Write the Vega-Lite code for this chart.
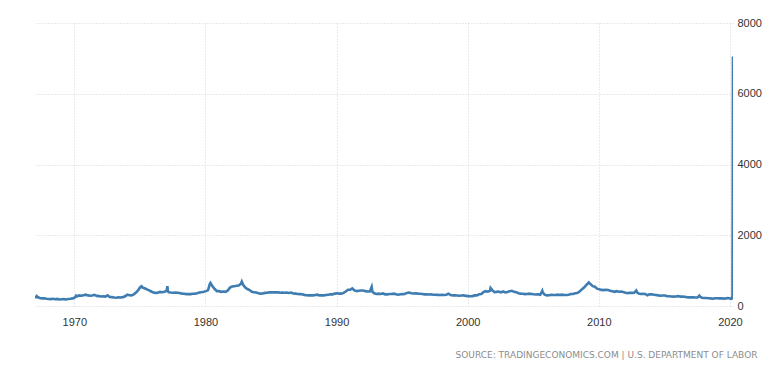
{
  "$schema": "https://vega.github.io/schema/vega-lite/v6.json",
  "width": 698,
  "height": 283,
  "autosize": {"type": "none"},
  "padding": {"left": 35, "top": 23, "right": 47, "bottom": 64},
  "background": "white",
  "config": {"view": {"stroke": null}},
  "title": {
    "text": "SOURCE: TRADINGECONOMICS.COM | U.S. DEPARTMENT OF LABOR",
    "orient": "bottom",
    "anchor": "end",
    "frame": "bounds",
    "font": "DejaVu Sans",
    "fontSize": 9,
    "fontWeight": "normal",
    "color": "#8c8c8c",
    "offset": 24,
    "dx": -4
  },
  "data": {"values": [
    {"d":"1967-01-07","v":220},{"d":"1967-02-18","v":280},{"d":"1967-03-25","v":245},{"d":"1967-05-15","v":225},{"d":"1967-07-15","v":215},{"d":"1967-09-15","v":220},{"d":"1967-11-15","v":205},
    {"d":"1968-01-15","v":200},{"d":"1968-03-15","v":195},{"d":"1968-05-15","v":205},{"d":"1968-07-15","v":190},{"d":"1968-09-15","v":200},{"d":"1968-11-15","v":185},
    {"d":"1969-01-15","v":190},{"d":"1969-03-15","v":195},{"d":"1969-05-15","v":185},{"d":"1969-07-15","v":200},{"d":"1969-09-15","v":205},{"d":"1969-11-15","v":215},
    {"d":"1970-01-15","v":240},{"d":"1970-02-20","v":290},{"d":"1970-03-15","v":270},{"d":"1970-05-15","v":300},{"d":"1970-07-15","v":290},{"d":"1970-09-15","v":305},{"d":"1970-11-15","v":320},
    {"d":"1971-01-15","v":300},{"d":"1971-03-15","v":290},{"d":"1971-05-15","v":295},{"d":"1971-07-15","v":315},{"d":"1971-09-15","v":285},{"d":"1971-11-15","v":280},
    {"d":"1972-01-15","v":270},{"d":"1972-03-15","v":275},{"d":"1972-05-15","v":265},{"d":"1972-07-15","v":300},{"d":"1972-09-15","v":255},{"d":"1972-11-15","v":250},
    {"d":"1973-01-15","v":240},{"d":"1973-03-15","v":235},{"d":"1973-05-15","v":245},{"d":"1973-07-15","v":240},{"d":"1973-09-15","v":250},{"d":"1973-11-15","v":275},
    {"d":"1974-01-15","v":320},{"d":"1974-03-15","v":305},{"d":"1974-05-15","v":300},{"d":"1974-07-15","v":330},{"d":"1974-09-15","v":380},{"d":"1974-11-15","v":450},
    {"d":"1975-01-15","v":540},{"d":"1975-02-15","v":560},{"d":"1975-03-15","v":520},{"d":"1975-05-15","v":500},{"d":"1975-07-15","v":470},{"d":"1975-09-15","v":440},{"d":"1975-11-15","v":410},
    {"d":"1976-01-15","v":380},{"d":"1976-03-15","v":370},{"d":"1976-05-15","v":375},{"d":"1976-07-15","v":400},{"d":"1976-09-15","v":390},{"d":"1976-11-15","v":400},
    {"d":"1977-01-15","v":430},{"d":"1977-02-05","v":560},{"d":"1977-02-19","v":420},{"d":"1977-03-15","v":390},{"d":"1977-05-15","v":380},{"d":"1977-07-15","v":375},{"d":"1977-09-15","v":380},{"d":"1977-11-15","v":375},
    {"d":"1978-01-15","v":370},{"d":"1978-03-15","v":350},{"d":"1978-05-15","v":345},{"d":"1978-07-15","v":335},{"d":"1978-09-15","v":340},{"d":"1978-11-15","v":335},
    {"d":"1979-01-15","v":345},{"d":"1979-03-15","v":350},{"d":"1979-05-15","v":360},{"d":"1979-07-15","v":380},{"d":"1979-09-15","v":390},{"d":"1979-11-15","v":400},
    {"d":"1980-01-15","v":420},{"d":"1980-03-15","v":450},{"d":"1980-05-01","v":620},{"d":"1980-05-20","v":650},{"d":"1980-07-15","v":560},{"d":"1980-09-15","v":480},{"d":"1980-11-15","v":420},
    {"d":"1981-01-15","v":420},{"d":"1981-03-15","v":400},{"d":"1981-05-15","v":410},{"d":"1981-07-15","v":400},{"d":"1981-09-15","v":440},{"d":"1981-11-15","v":520},
    {"d":"1982-01-15","v":550},{"d":"1982-03-15","v":560},{"d":"1982-05-15","v":570},{"d":"1982-07-15","v":580},{"d":"1982-09-15","v":630},{"d":"1982-10-10","v":690},{"d":"1982-11-15","v":600},
    {"d":"1983-01-15","v":520},{"d":"1983-03-15","v":480},{"d":"1983-05-15","v":450},{"d":"1983-07-15","v":400},{"d":"1983-09-15","v":390},{"d":"1983-11-15","v":380},
    {"d":"1984-01-15","v":360},{"d":"1984-03-15","v":350},{"d":"1984-05-15","v":355},{"d":"1984-07-15","v":370},{"d":"1984-09-15","v":375},{"d":"1984-11-15","v":385},
    {"d":"1985-01-15","v":390},{"d":"1985-03-15","v":385},{"d":"1985-05-15","v":390},{"d":"1985-07-15","v":385},{"d":"1985-09-15","v":375},{"d":"1985-11-15","v":380},
    {"d":"1986-01-15","v":375},{"d":"1986-03-15","v":380},{"d":"1986-05-15","v":370},{"d":"1986-07-15","v":380},{"d":"1986-09-15","v":355},{"d":"1986-11-15","v":350},
    {"d":"1987-01-15","v":340},{"d":"1987-03-15","v":335},{"d":"1987-05-15","v":330},{"d":"1987-07-15","v":315},{"d":"1987-09-15","v":305},{"d":"1987-11-15","v":300},
    {"d":"1988-01-15","v":305},{"d":"1988-03-15","v":300},{"d":"1988-05-15","v":310},{"d":"1988-07-15","v":320},{"d":"1988-09-15","v":300},{"d":"1988-11-15","v":300},
    {"d":"1989-01-15","v":300},{"d":"1989-03-15","v":310},{"d":"1989-05-15","v":320},{"d":"1989-07-15","v":330},{"d":"1989-09-15","v":330},{"d":"1989-11-15","v":350},
    {"d":"1990-01-15","v":360},{"d":"1990-03-15","v":350},{"d":"1990-05-15","v":350},{"d":"1990-07-15","v":370},{"d":"1990-09-15","v":410},{"d":"1990-11-15","v":460},
    {"d":"1991-01-15","v":460},{"d":"1991-03-15","v":500},{"d":"1991-05-15","v":440},{"d":"1991-07-15","v":420},{"d":"1991-09-15","v":430},{"d":"1991-11-15","v":440},
    {"d":"1992-01-15","v":440},{"d":"1992-03-15","v":420},{"d":"1992-05-15","v":410},{"d":"1992-07-15","v":410},{"d":"1992-09-05","v":540},{"d":"1992-09-26","v":400},{"d":"1992-11-15","v":360},
    {"d":"1993-01-15","v":340},{"d":"1993-03-15","v":350},{"d":"1993-05-15","v":340},{"d":"1993-07-15","v":355},{"d":"1993-09-15","v":330},{"d":"1993-11-15","v":330},
    {"d":"1994-01-15","v":340},{"d":"1994-03-15","v":340},{"d":"1994-05-15","v":350},{"d":"1994-07-15","v":335},{"d":"1994-09-15","v":320},{"d":"1994-11-15","v":330},
    {"d":"1995-01-15","v":335},{"d":"1995-03-15","v":340},{"d":"1995-05-15","v":370},{"d":"1995-07-15","v":380},{"d":"1995-09-15","v":360},{"d":"1995-11-15","v":355},
    {"d":"1996-01-15","v":360},{"d":"1996-03-15","v":350},{"d":"1996-05-15","v":345},{"d":"1996-07-15","v":340},{"d":"1996-09-15","v":330},{"d":"1996-11-15","v":330},
    {"d":"1997-01-15","v":325},{"d":"1997-03-15","v":330},{"d":"1997-05-15","v":320},{"d":"1997-07-15","v":320},{"d":"1997-09-15","v":315},{"d":"1997-11-15","v":310},
    {"d":"1998-01-15","v":315},{"d":"1998-03-15","v":310},{"d":"1998-05-15","v":320},{"d":"1998-07-15","v":350},{"d":"1998-09-15","v":310},{"d":"1998-11-15","v":300},
    {"d":"1999-01-15","v":300},{"d":"1999-03-15","v":295},{"d":"1999-05-15","v":290},{"d":"1999-07-15","v":295},{"d":"1999-09-15","v":300},{"d":"1999-11-15","v":285},
    {"d":"2000-01-15","v":280},{"d":"2000-03-15","v":275},{"d":"2000-05-15","v":280},{"d":"2000-07-15","v":300},{"d":"2000-09-15","v":300},{"d":"2000-11-15","v":330},
    {"d":"2001-01-15","v":340},{"d":"2001-03-15","v":390},{"d":"2001-05-15","v":420},{"d":"2001-07-15","v":405},{"d":"2001-09-15","v":430},{"d":"2001-10-01","v":510},{"d":"2001-11-15","v":450},
    {"d":"2002-01-15","v":390},{"d":"2002-03-15","v":400},{"d":"2002-05-15","v":410},{"d":"2002-07-15","v":385},{"d":"2002-09-15","v":410},{"d":"2002-11-15","v":385},
    {"d":"2003-01-15","v":395},{"d":"2003-03-15","v":420},{"d":"2003-05-15","v":430},{"d":"2003-07-15","v":400},{"d":"2003-09-15","v":390},{"d":"2003-11-15","v":360},
    {"d":"2004-01-15","v":350},{"d":"2004-03-15","v":345},{"d":"2004-05-15","v":335},{"d":"2004-07-15","v":340},{"d":"2004-09-15","v":350},{"d":"2004-11-15","v":340},
    {"d":"2005-01-15","v":330},{"d":"2005-03-15","v":325},{"d":"2005-05-15","v":330},{"d":"2005-07-15","v":315},{"d":"2005-09-10","v":430},{"d":"2005-09-24","v":380},{"d":"2005-11-15","v":320},
    {"d":"2006-01-15","v":300},{"d":"2006-03-15","v":305},{"d":"2006-05-15","v":315},{"d":"2006-07-15","v":310},{"d":"2006-09-15","v":310},{"d":"2006-11-15","v":320},
    {"d":"2007-01-15","v":310},{"d":"2007-03-15","v":320},{"d":"2007-05-15","v":310},{"d":"2007-07-15","v":310},{"d":"2007-09-15","v":320},{"d":"2007-11-15","v":340},
    {"d":"2008-01-15","v":340},{"d":"2008-03-15","v":360},{"d":"2008-05-15","v":370},{"d":"2008-07-15","v":410},{"d":"2008-09-15","v":470},{"d":"2008-11-15","v":520},
    {"d":"2009-01-15","v":590},{"d":"2009-03-28","v":665},{"d":"2009-04-15","v":640},{"d":"2009-05-15","v":620},{"d":"2009-07-15","v":560},{"d":"2009-09-15","v":545},{"d":"2009-11-15","v":490},
    {"d":"2010-01-15","v":470},{"d":"2010-03-15","v":455},{"d":"2010-05-15","v":450},{"d":"2010-07-15","v":460},{"d":"2010-09-15","v":450},{"d":"2010-11-15","v":430},
    {"d":"2011-01-15","v":415},{"d":"2011-03-15","v":400},{"d":"2011-05-15","v":420},{"d":"2011-07-15","v":405},{"d":"2011-09-15","v":410},{"d":"2011-11-15","v":395},
    {"d":"2012-01-15","v":375},{"d":"2012-03-15","v":365},{"d":"2012-05-15","v":375},{"d":"2012-07-15","v":370},{"d":"2012-09-15","v":375},{"d":"2012-11-10","v":440},{"d":"2012-12-15","v":370},
    {"d":"2013-01-15","v":350},{"d":"2013-03-15","v":340},{"d":"2013-05-15","v":345},{"d":"2013-07-15","v":340},{"d":"2013-09-15","v":305},{"d":"2013-11-15","v":330},
    {"d":"2014-01-15","v":330},{"d":"2014-03-15","v":320},{"d":"2014-05-15","v":310},{"d":"2014-07-15","v":300},{"d":"2014-09-15","v":290},{"d":"2014-11-15","v":295},
    {"d":"2015-01-15","v":295},{"d":"2015-03-15","v":280},{"d":"2015-05-15","v":275},{"d":"2015-07-15","v":270},{"d":"2015-09-15","v":265},{"d":"2015-11-15","v":270},
    {"d":"2016-01-15","v":280},{"d":"2016-03-15","v":265},{"d":"2016-05-15","v":270},{"d":"2016-07-15","v":260},{"d":"2016-09-15","v":250},{"d":"2016-11-15","v":245},
    {"d":"2017-01-15","v":245},{"d":"2017-03-15","v":245},{"d":"2017-05-15","v":240},{"d":"2017-07-15","v":240},{"d":"2017-09-02","v":295},{"d":"2017-09-23","v":260},{"d":"2017-11-15","v":235},
    {"d":"2018-01-15","v":225},{"d":"2018-03-15","v":225},{"d":"2018-05-15","v":220},{"d":"2018-07-15","v":215},{"d":"2018-09-15","v":205},{"d":"2018-11-15","v":220},
    {"d":"2019-01-15","v":220},{"d":"2019-03-15","v":215},{"d":"2019-05-15","v":220},{"d":"2019-07-15","v":210},{"d":"2019-09-15","v":215},{"d":"2019-11-15","v":225},
    {"d":"2020-01-04","v":215},{"d":"2020-02-01","v":205},{"d":"2020-02-29","v":215},{"d":"2020-03-14","v":282},{"d":"2020-03-21","v":3307},{"d":"2020-03-28","v":7050}
  ]},
  "mark": {"type": "line", "color": "#3e7cb1", "strokeWidth": 2.6, "clip": true},
  "encoding": {
    "x": {
      "field": "d",
      "type": "temporal",
      "scale": {"domain": ["1967-01-01", "2020-03-28"], "nice": false},
      "axis": {
        "title": null,
        "values": [{"year": 1970}, {"year": 1980}, {"year": 1990}, {"year": 2000}, {"year": 2010}, {"year": 2020}],
        "format": "%Y",
        "domain": false,
        "ticks": false,
        "labelPadding": 10,
        "labelFont": "Liberation Sans",
        "labelFontSize": 11,
        "labelColor": "#333333",
        "grid": true,
        "gridColor": "#d4d4d4",
        "gridDash": [1, 2],
        "labelFlush": false
      }
    },
    "y": {
      "field": "v",
      "type": "quantitative",
      "scale": {"domain": [0, 8000], "nice": false},
      "axis": {
        "title": null,
        "orient": "right",
        "values": [0, 2000, 4000, 6000, 8000],
        "format": "d",
        "domain": false,
        "ticks": false,
        "labelPadding": 4,
        "labelFont": "Liberation Sans",
        "labelFontSize": 11,
        "labelColor": "#333333",
        "grid": true,
        "gridColor": "#d4d4d4",
        "gridDash": [1, 2]
      }
    }
  }
}
